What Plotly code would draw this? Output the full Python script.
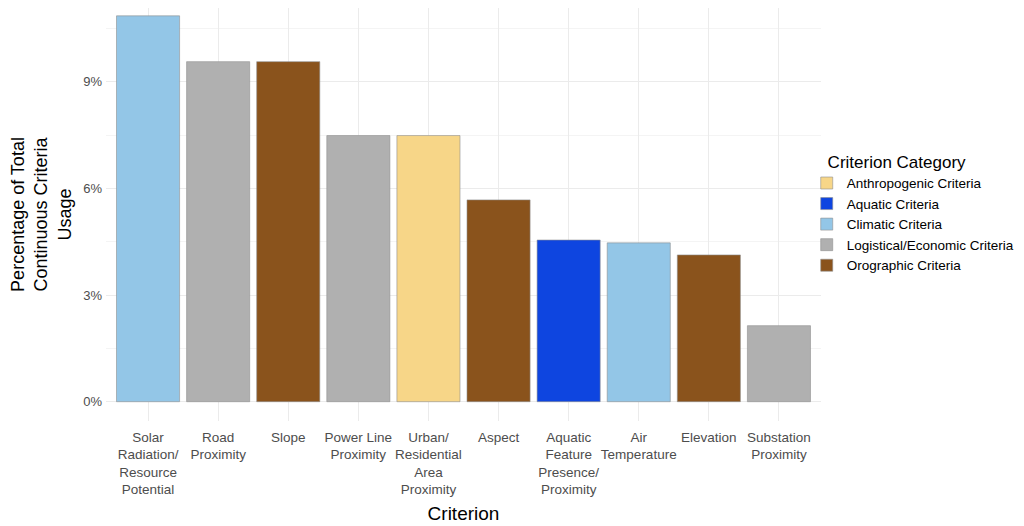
import plotly.graph_objects as go

criteria = [
    "Solar<br>Radiation/<br>Resource<br>Potential",
    "Road<br>Proximity",
    "Slope",
    "Power Line<br>Proximity",
    "Urban/<br>Residential<br>Area<br>Proximity",
    "Aspect",
    "Aquatic<br>Feature<br>Presence/<br>Proximity",
    "Air<br>Temperature",
    "Elevation",
    "Substation<br>Proximity",
]
percent = [10.86, 9.57, 9.57, 7.49, 7.49, 5.68, 4.55, 4.47, 4.13, 2.14]
category = [
    "Climatic Criteria",
    "Logistical/Economic Criteria",
    "Orographic Criteria",
    "Logistical/Economic Criteria",
    "Anthropogenic Criteria",
    "Orographic Criteria",
    "Aquatic Criteria",
    "Climatic Criteria",
    "Orographic Criteria",
    "Logistical/Economic Criteria",
]
legend_order = [
    "Anthropogenic Criteria",
    "Aquatic Criteria",
    "Climatic Criteria",
    "Logistical/Economic Criteria",
    "Orographic Criteria",
]
colors = {
    "Anthropogenic Criteria": "#F7D688",
    "Aquatic Criteria": "#0E45E0",
    "Climatic Criteria": "#93C6E7",
    "Logistical/Economic Criteria": "#B0B0B0",
    "Orographic Criteria": "#8A531C",
}

fig = go.Figure()
for cat in legend_order:
    xs = [c for c, k in zip(criteria, category) if k == cat]
    ys = [p for p, k in zip(percent, category) if k == cat]
    fig.add_trace(go.Bar(
        x=xs, y=ys, name=cat, width=0.9,
        marker=dict(color=colors[cat], line=dict(color="#8f8f8f", width=0.6)),
    ))

ymax = max(percent)
fig.update_layout(
    barmode="overlay",
    width=1024, height=526,
    paper_bgcolor="white", plot_bgcolor="white",
    font=dict(family="Liberation Sans, Arial, sans-serif", color="#4d4d4d", size=13),
    margin=dict(l=98, r=211, t=0, b=113, autoexpand=False),
    legend=dict(
        title=dict(text="&nbsp;&nbsp;&nbsp;&nbsp;Criterion Category",
                   font=dict(size=17, color="black")),
        font=dict(size=13.5, color="black"),
        xref="container", yref="container",
        x=0.780, xanchor="left", y=0.61, yanchor="middle",
        bgcolor="rgba(0,0,0,0)", traceorder="normal",
    ),
    bargap=0.1,
)
fig.update_xaxes(
    categoryorder="array", categoryarray=criteria,
    range=[-0.6, len(criteria) - 0.4],
    showgrid=True, gridcolor="#ebebeb", gridwidth=1,
    showline=False, zeroline=False, ticks="", automargin=False,
    tickangle=0, ticklabelstandoff=6,
    tickfont=dict(size=13.5, color="#4d4d4d"),
    title=dict(text="Criterion", font=dict(size=19, color="black"), standoff=10),
)
fig.update_yaxes(
    range=[-0.05 * ymax, 11.08],
    tickvals=[0, 3, 6, 9], ticktext=["0%", "3%", "6%", "9%"],
    showgrid=True, gridcolor="#ebebeb", gridwidth=1,
    minor=dict(tickvals=[1.5, 4.5, 7.5, 10.5], showgrid=True, gridcolor="#f4f4f4", gridwidth=0.6),
    zeroline=False, showline=False, ticks="", automargin=False,
    ticklabelstandoff=3,
    tickfont=dict(size=13, color="#4d4d4d"),
    title=dict(text="Percentage of Total<br>Continuous Criteria<br>Usage",
               font=dict(size=18, color="black"), standoff=30),
)
fig.write_html("out.html")
